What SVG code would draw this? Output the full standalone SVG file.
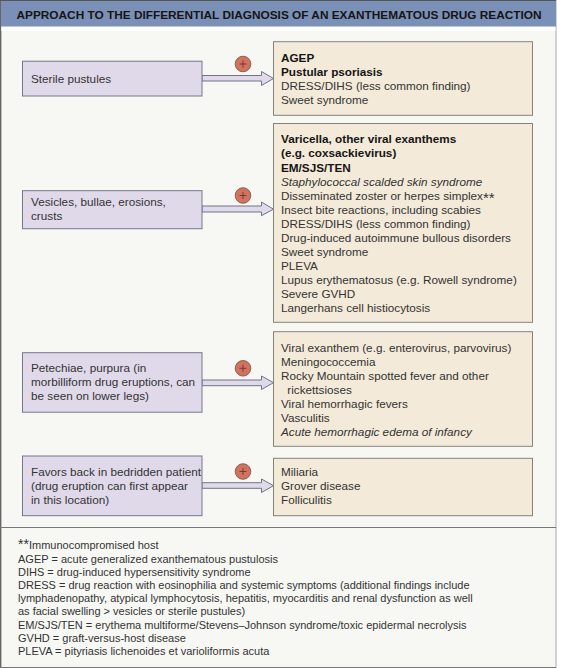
<svg xmlns="http://www.w3.org/2000/svg" width="563" height="668" viewBox="0 0 563 668">
<style>
text{font-family:"Liberation Sans",Arial,sans-serif;fill:#333}
.t{font-size:11.72px}
.s{font-size:11px}
.b{font-weight:bold;fill:#151515}
.i{font-style:italic}
.left{fill:#e0d9ea;stroke:#77778a;stroke-width:1}
.right{fill:#f3ead9;stroke:#85827a;stroke-width:1}
.arrow{fill:#e0d9ea;stroke:#6f7487;stroke-width:1}
.plus{fill:#d2735f;stroke:#7a4a40;stroke-width:.8}
.pl{stroke:#4a2a25;stroke-width:.7}
</style>
<rect x="0" y="0" width="563" height="668" fill="#ffffff"/>
<rect x="0" y="0" width="556" height="668" fill="#f7f8f4"/>
<path d="M0.700 0V668" stroke="#666" stroke-width="1.400" fill="none"/>
<path d="M556 0V668" stroke="#a8a8a8" stroke-width="1" fill="none"/>
<g id="header"><rect x="1" y="1" width="555" height="25.700" fill="#7b90b7"/><line x1="0" y1="0.500" x2="556" y2="0.500" stroke="#555"/><rect x="1.400" y="26.700" width="554" height="4.300" fill="#fff"/>
<text x="16.500" y="18.500" font-size="11.840" class="b">APPROACH TO THE DIFFERENTIAL DIAGNOSIS OF AN EXANTHEMATOUS DRUG REACTION</text></g>
<g id="connectors">
<path class="arrow" d="M202 75.500H261.500V71.500L273.500 78.500L261.500 85.500V81H202Z"/>
<path class="arrow" d="M202 206H261.500V202L273.500 209.200L261.500 215.700V212H202Z"/>
<path class="arrow" d="M202 380H261.500V376L273.500 382.700L261.500 389.500V385.700H202Z"/>
<path class="arrow" d="M202 482.700H261.500V479L273.500 485.700L261.500 492.500V488.300H202Z"/>
</g>
<g id="node-sterile"><rect class="left" x="22.500" y="61.200" width="179.500" height="34.800"/><text class="t" x="31" y="82.700">Sterile pustules</text></g>
<g id="node-vesicles"><rect class="left" x="22.500" y="190.700" width="179.500" height="38"/><text class="t" x="31" y="206">Vesicles, bullae, erosions,</text><text class="t" x="31" y="220">crusts</text></g>
<g id="node-petechiae"><rect class="left" x="22.500" y="352.700" width="179.500" height="59.500"/><text class="t" x="31" y="372">Petechiae, purpura (in</text><text class="t" x="31" y="386">morbilliform drug eruptions, can</text><text class="t" x="31" y="400">be seen on lower legs)</text></g>
<g id="node-favors"><rect class="left" x="22.500" y="456" width="179.500" height="59.700"/><text class="t" x="31" y="476">Favors back in bedridden patient</text><text class="t" x="31" y="490">(drug eruption can first appear</text><text class="t" x="31" y="504">in this location)</text></g>
<g id="plus-1"><circle class="plus" cx="243" cy="64" r="7.800"/><path class="pl" d="M239.500 64H246.500M243 60.500V67.500"/></g>
<g id="plus-2"><circle class="plus" cx="243" cy="195.500" r="7.800"/><path class="pl" d="M239.500 195.500H246.500M243 192V199"/></g>
<g id="plus-3"><circle class="plus" cx="243" cy="368.300" r="7.800"/><path class="pl" d="M239.500 368.300H246.500M243 364.800V371.800"/></g>
<g id="plus-4"><circle class="plus" cx="243" cy="471.500" r="7.800"/><path class="pl" d="M239.500 471.500H246.500M243 468V475"/></g>
<g id="node-r1"><rect class="right" x="273.500" y="41.700" width="259" height="73.600"/>
<text class="t b" x="281" y="61.700">AGEP</text><text class="t b" x="281" y="76">Pustular psoriasis</text><text class="t" x="281" y="90">DRESS/DIHS (less common finding)</text><text class="t" x="281" y="104">Sweet syndrome</text></g>
<g id="node-r2"><rect class="right" x="273.500" y="123.500" width="259" height="198.800"/>
<text class="t b" x="281" y="143.300">Varicella, other viral exanthems</text><text class="t b" x="281" y="157.400">(e.g. coxsackievirus)</text><text class="t b" x="281" y="171.500">EM/SJS/TEN</text><text class="t i" x="281" y="185.500">Staphylococcal scalded skin syndrome</text><text class="t" x="281" y="199.600">Disseminated zoster or herpes simplex<tspan font-size="15" dy="3">**</tspan></text><text class="t" x="281" y="213.700">Insect bite reactions, including scabies</text><text class="t" x="281" y="227.800">DRESS/DIHS (less common finding)</text><text class="t" x="281" y="241.900">Drug-induced autoimmune bullous disorders</text><text class="t" x="281" y="255.900">Sweet syndrome</text><text class="t" x="281" y="270">PLEVA</text><text class="t" x="281" y="284.100">Lupus erythematosus (e.g. Rowell syndrome)</text><text class="t" x="281" y="298.200">Severe GVHD</text><text class="t" x="281" y="312.300">Langerhans cell histiocytosis</text></g>
<g id="node-r3"><rect class="right" x="273.500" y="331.700" width="259" height="114.600"/>
<text class="t" x="281" y="351.600">Viral exanthem (e.g. enterovirus, parvovirus)</text><text class="t" x="281" y="365.700">Meningococcemia</text><text class="t" x="281" y="379.800">Rocky Mountain spotted fever and other</text><text class="t" x="287.300" y="393.900">rickettsioses</text><text class="t" x="281" y="408">Viral hemorrhagic fevers</text><text class="t" x="281" y="422.100">Vasculitis</text><text class="t i" x="281" y="436.200">Acute hemorrhagic edema of infancy</text></g>
<g id="node-r4"><rect class="right" x="273.500" y="458.300" width="259" height="57.400"/>
<text class="t" x="281" y="476">Miliaria</text><text class="t" x="281" y="490">Grover disease</text><text class="t" x="281" y="504">Folliculitis</text></g>
<g id="legend"><line x1="0" y1="527.500" x2="556" y2="527.500" stroke="#777"/><line x1="0" y1="667.500" x2="556" y2="667.500" stroke="#777"/>
<text class="s" x="18" y="549"><tspan font-size="14">**</tspan>Immunocompromised host</text>
<text class="s" x="18" y="563">AGEP = acute generalized exanthematous pustulosis</text>
<text class="s" x="18" y="576">DIHS = drug-induced hypersensitivity syndrome</text>
<text class="s" x="18" y="589">DRESS = drug reaction with eosinophilia and systemic symptoms (additional findings include</text>
<text class="s" x="18" y="602">lymphadenopathy, atypical lymphocytosis, hepatitis, myocarditis and renal dysfunction as well</text>
<text class="s" x="18" y="615">as facial swelling &gt; vesicles or sterile pustules)</text>
<text class="s" x="18" y="628.500">EM/SJS/TEN = erythema multiforme/Stevens–Johnson syndrome/toxic epidermal necrolysis</text>
<text class="s" x="18" y="641.500">GVHD = graft-versus-host disease</text>
<text class="s" x="18" y="654.500">PLEVA = pityriasis lichenoides et varioliformis acuta</text></g>
</svg>
